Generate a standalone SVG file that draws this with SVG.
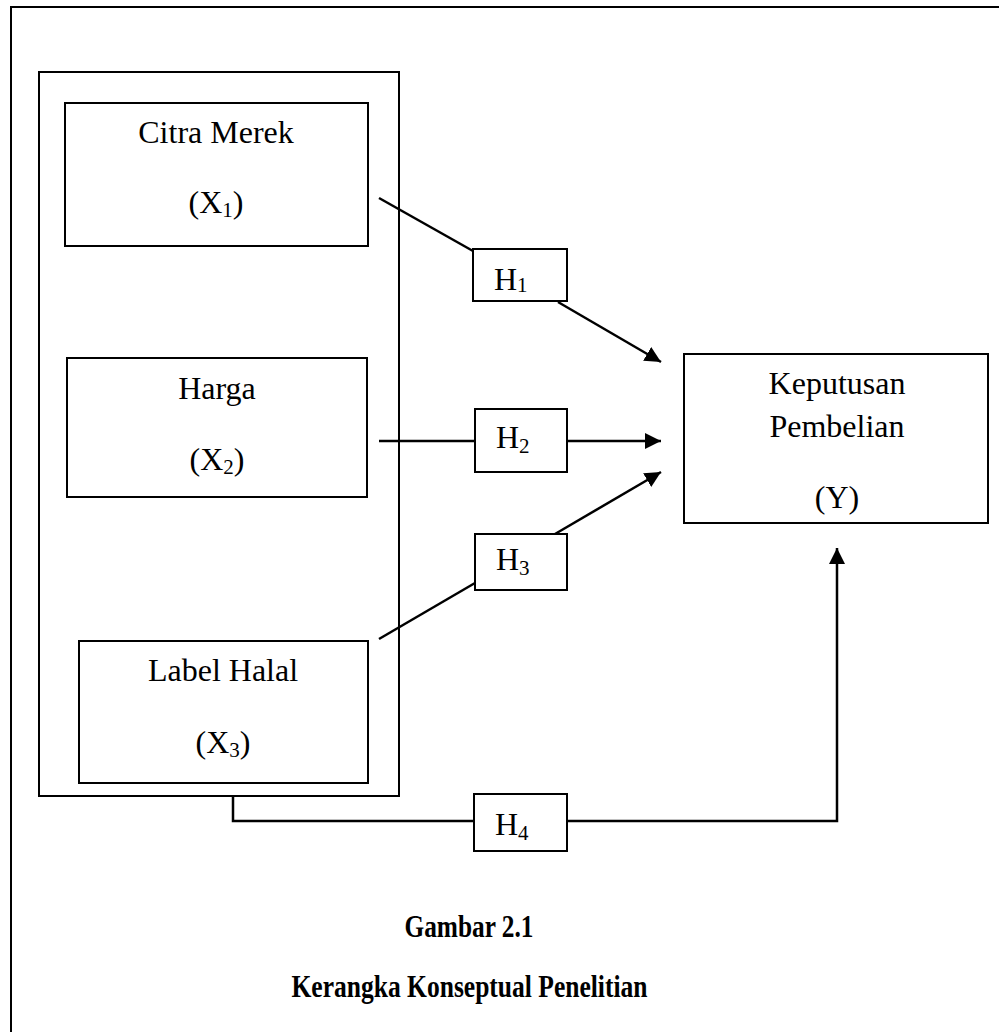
<svg xmlns="http://www.w3.org/2000/svg" width="999" height="1032" viewBox="0 0 999 1032">
<defs>
<style>
.box{fill:#fff;stroke:#000;stroke-width:2}
.frame{fill:none;stroke:#000;stroke-width:2}
.t{font-family:"Liberation Serif","Times New Roman",serif;font-size:32px;fill:#000}
.c{text-anchor:middle}
.cap{font-family:"Liberation Serif","Times New Roman",serif;font-size:32px;font-weight:bold;fill:#000;text-anchor:middle}
.con{fill:none;stroke:#000;stroke-width:2.5}
</style>
<marker id="arr" markerUnits="userSpaceOnUse" markerWidth="18" markerHeight="16" refX="16" refY="8" orient="auto">
<path d="M0,0 L16,8 L0,16 Z" fill="#000"/>
</marker>
</defs>
<rect width="999" height="1032" fill="#fff"/>
<path class="frame" d="M11,1032 V7 H1000"/>
<g id="group-x">
<rect class="box" x="39" y="72" width="360" height="724"/>
</g>
<g id="citra-merek">
<rect class="box" x="65" y="103" width="303" height="143"/>
<text class="t c" x="216" y="143">Citra Merek</text>
<text class="t c" x="216" y="213">(X<tspan font-size="21" dy="4">1</tspan><tspan dy="-4">)</tspan></text>
</g>
<g id="harga">
<rect class="box" x="67" y="358" width="300" height="139"/>
<text class="t c" x="217" y="399">Harga</text>
<text class="t c" x="217" y="470">(X<tspan font-size="21" dy="4">2</tspan><tspan dy="-4">)</tspan></text>
</g>
<g id="label-halal">
<rect class="box" x="79" y="641" width="289" height="142"/>
<text class="t c" x="223" y="681">Label Halal</text>
<text class="t c" x="223" y="753">(X<tspan font-size="21" dy="4">3</tspan><tspan dy="-4">)</tspan></text>
</g>
<g id="keputusan">
<rect class="box" x="684" y="354" width="304" height="169"/>
<text class="t c" x="837" y="394">Keputusan</text>
<text class="t c" x="837" y="437">Pembelian</text>
<text class="t c" x="837" y="508">(Y)</text>
</g>
<g id="connectors">
<path class="con" d="M379,198 L473,251"/>
<path class="con" d="M558,302 L661,362" marker-end="url(#arr)"/>
<path class="con" d="M379,441 H475"/>
<path class="con" d="M567,441 H661" marker-end="url(#arr)"/>
<path class="con" d="M379,639 L475,583"/>
<path class="con" d="M555,534 L661,472" marker-end="url(#arr)"/>
<path class="con" d="M233,796 V821 H474"/>
<path class="con" d="M567,821 H837 V548" marker-end="url(#arr)"/>
</g>
<g id="h1">
<rect class="box" x="473" y="249" width="94" height="52"/>
<text class="t" x="494" y="290">H<tspan font-size="21" dy="2">1</tspan></text>
</g>
<g id="h2">
<rect class="box" x="475" y="409" width="92" height="63"/>
<text class="t" x="496" y="448">H<tspan font-size="21" dy="5">2</tspan></text>
</g>
<g id="h3">
<rect class="box" x="475" y="534" width="92" height="56"/>
<text class="t" x="496" y="570">H<tspan font-size="21" dy="5">3</tspan></text>
</g>
<g id="h4">
<rect class="box" x="474" y="794" width="93" height="57"/>
<text class="t" x="495" y="835">H<tspan font-size="21" dy="5">4</tspan></text>
</g>
<g id="caption">
<text class="cap" x="469" y="937" textLength="129" lengthAdjust="spacingAndGlyphs">Gambar 2.1</text>
<text class="cap" x="469.5" y="997" textLength="356" lengthAdjust="spacingAndGlyphs">Kerangka Konseptual Penelitian</text>
</g>
</svg>
